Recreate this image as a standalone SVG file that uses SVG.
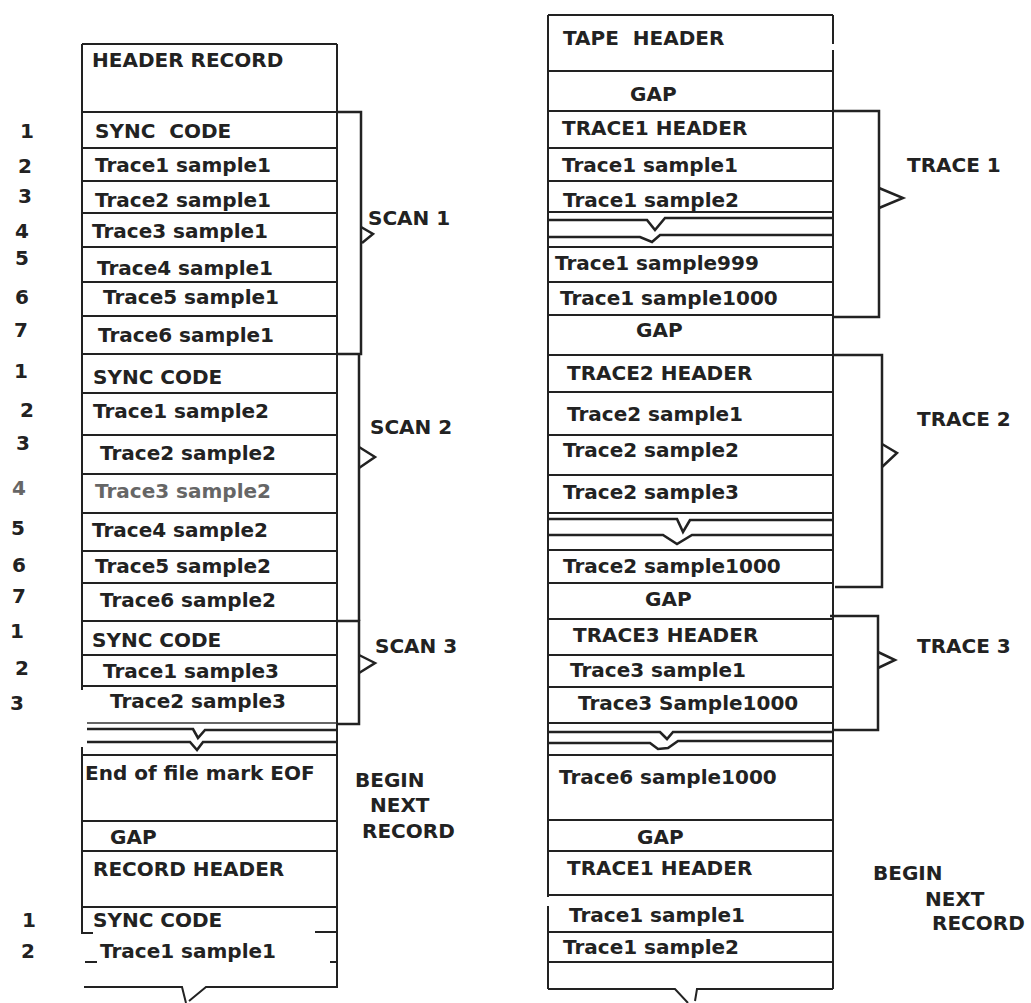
<svg xmlns="http://www.w3.org/2000/svg" width="1031" height="1003" viewBox="0 0 1031 1003">
<style>
text{font-family:"DejaVu Sans","Liberation Sans",sans-serif;font-weight:bold;font-size:20px;fill:#222;white-space:pre}
.num{text-anchor:middle}
.gray{fill:#666}
.ln{fill:none;stroke:#222;stroke-width:2}
.thin{fill:none;stroke:#333;stroke-width:1.5}
.nt{fill:none;stroke:#222;stroke-width:2.6}
.br{fill:none;stroke:#222;stroke-width:2.5}
</style>
<rect width="1031" height="1003" fill="#fff"/>

<!-- LEFT COLUMN -->
<g id="left-record">
  <path class="ln" d="M82 44 V690 M82 747 V933 H93 M337 44 V988"/>
  <path class="ln" d="M82 44 H337 M82 112 H337 M82 148 H337 M82 181 H337 M82 213 H337 M82 247 H337 M82 282 H337 M82 316 H337 M82 354 H337 M82 393 H337 M82 435 H337 M82 474 H337 M82 513 H337 M82 551 H337 M82 583 H337 M82 621 H337 M82 655 H337 M82 686 H337"/>
  <path class="thin" d="M87 723 H337"/>
  <path class="nt" d="M87 729 H193 L198 738 L205 730 H337 M87 742 H190 L197 750 L203 742 H337"/>
  <path class="ln" d="M82 755 H337 M82 821 H337 M82 851 H337 M82 907 H337 M315 932 H337 M85 962 H97 M330 962 H337"/>
  <path class="ln" d="M84 987 H182 L186 1003 M189 1001 L206 987 H337"/>
</g>
<g id="left-header-record"><text x="92" y="67">HEADER RECORD</text></g>
<g id="left-scan1-rows">
  <text x="95" y="138">SYNC  CODE</text>
  <text x="95" y="172">Trace1 sample1</text>
  <text x="95" y="207">Trace2 sample1</text>
  <text x="92" y="238">Trace3 sample1</text>
  <text x="97" y="275">Trace4 sample1</text>
  <text x="103" y="304">Trace5 sample1</text>
  <text x="98" y="342">Trace6 sample1</text>
</g>
<g id="left-scan2-rows">
  <text x="93" y="384">SYNC CODE</text>
  <text x="93" y="418">Trace1 sample2</text>
  <text x="100" y="460">Trace2 sample2</text>
  <text class="gray" x="95" y="498">Trace3 sample2</text>
  <text x="92" y="537">Trace4 sample2</text>
  <text x="95" y="573">Trace5 sample2</text>
  <text x="100" y="607">Trace6 sample2</text>
</g>
<g id="left-scan3-rows">
  <text x="92" y="647">SYNC CODE</text>
  <text x="103" y="678">Trace1 sample3</text>
  <text x="110" y="708">Trace2 sample3</text>
</g>
<g id="left-eof"><text x="85" y="780">End of file mark EOF</text></g>
<g id="left-gap"><text x="110" y="844">GAP</text></g>
<g id="left-record-header"><text x="93" y="876">RECORD HEADER</text></g>
<g id="left-next-rows">
  <text x="93" y="927">SYNC CODE</text>
  <text x="100" y="958">Trace1 sample1</text>
</g>
<g id="left-numbers">
  <text class="num" x="27" y="138">1</text>
  <text class="num" x="25" y="173">2</text>
  <text class="num" x="25" y="203">3</text>
  <text class="num" x="22" y="238">4</text>
  <text class="num" x="22" y="265">5</text>
  <text class="num" x="22" y="304">6</text>
  <text class="num" x="21" y="337">7</text>
  <text class="num" x="21" y="378">1</text>
  <text class="num" x="27" y="417">2</text>
  <text class="num" x="23" y="450">3</text>
  <text class="num gray" x="19" y="495">4</text>
  <text class="num" x="18" y="535">5</text>
  <text class="num" x="19" y="572">6</text>
  <text class="num" x="19" y="603">7</text>
  <text class="num" x="17" y="638">1</text>
  <text class="num" x="22" y="675">2</text>
  <text class="num" x="17" y="710">3</text>
  <text class="num" x="29" y="927">1</text>
  <text class="num" x="28" y="958">2</text>
</g>
<g id="left-labels">
  <text x="368" y="225">SCAN 1</text>
  <text x="370" y="434">SCAN 2</text>
  <text x="375" y="653">SCAN 3</text>
  <text x="355" y="787">BEGIN</text>
  <text x="370" y="812">NEXT</text>
  <text x="362" y="838">RECORD</text>
</g>

<!-- RIGHT COLUMN -->
<g id="right-tape">
  <path class="ln" d="M548 15 V897 M548 906 V989 M833 15 V44 M833 50 V989"/>
  <path class="ln" d="M548 15 H833 M548 71 H833 M548 111 H833 M548 148 H833 M548 181 H833 M548 212 H833 M548 247 H833 M548 282 H833 M548 315 H833 M548 355 H833 M548 392 H833 M548 435 H833 M548 475 H833 M548 513 H833 M548 550 H833 M548 583 H833 M548 619 H833 M548 655 H833 M548 687 H833 M548 723 H833 M548 755 H833 M548 820 H833 M548 851 H833 M548 895 H833 M548 932 H833 M548 962 H833"/>
  <path class="nt" d="M548 220 H647 L655 230 L665 218 H833 M548 237 H640 L652 242 L660 235 H833"/>
  <path class="nt" d="M548 519 H677 L683 532 L690 520 H833 M548 535 H663 L677 544 L692 535 H833"/>
  <path class="nt" d="M548 732 H660 L667 739 L673 732 H833 M548 743 H650 L658 749 L668 748 L678 741 H833"/>
  <path class="ln" d="M548 989 H675 L688 1003 M695 1001 L697 989 H833"/>
</g>
<g id="right-tape-header"><text x="563" y="45">TAPE  HEADER</text></g>
<g id="right-gap1"><text x="630" y="101">GAP</text></g>
<g id="right-trace1-rows">
  <text x="562" y="135">TRACE1 HEADER</text>
  <text x="562" y="172">Trace1 sample1</text>
  <text x="563" y="207">Trace1 sample2</text>
  <text x="555" y="270">Trace1 sample999</text>
  <text x="560" y="305">Trace1 sample1000</text>
</g>
<g id="right-gap2"><text x="636" y="337">GAP</text></g>
<g id="right-trace2-rows">
  <text x="567" y="380">TRACE2 HEADER</text>
  <text x="567" y="421">Trace2 sample1</text>
  <text x="563" y="457">Trace2 sample2</text>
  <text x="563" y="499">Trace2 sample3</text>
  <text x="563" y="573">Trace2 sample1000</text>
</g>
<g id="right-gap3"><text x="645" y="606">GAP</text></g>
<g id="right-trace3-rows">
  <text x="573" y="642">TRACE3 HEADER</text>
  <text x="570" y="677">Trace3 sample1</text>
  <text x="578" y="710">Trace3 Sample1000</text>
</g>
<g id="right-trace6"><text x="559" y="784">Trace6 sample1000</text></g>
<g id="right-gap4"><text x="637" y="844">GAP</text></g>
<g id="right-next-rows">
  <text x="567" y="875">TRACE1 HEADER</text>
  <text x="569" y="922">Trace1 sample1</text>
  <text x="563" y="954">Trace1 sample2</text>
</g>
<g id="right-labels">
  <text x="907" y="172">TRACE 1</text>
  <text x="917" y="426">TRACE 2</text>
  <text x="917" y="653">TRACE 3</text>
  <text x="873" y="880">BEGIN</text>
  <text x="925" y="906">NEXT</text>
  <text x="932" y="930">RECORD</text>
</g>

<!-- CONNECTORS (brackets) -->
<g id="connectors">
  <path class="br" d="M337 112 H361 V354 H337"/>
  <path class="br" d="M361 227 L373 234 L362 243"/>
  <path class="br" d="M359 354 V621"/>
  <path class="br" d="M359 447 L375 457 L359 468"/>
  <path class="br" d="M337 621 H359 V724 H337"/>
  <path class="br" d="M359 655 L375 663 L359 673"/>
  <path class="br" d="M833 111 H879 V317 H833"/>
  <path class="br" d="M879 188 L903 198 L879 208"/>
  <path class="br" d="M833 355 H882 V587 H835"/>
  <path class="br" d="M882 444 L897 453 L882 467"/>
  <path class="br" d="M830 616 H878 V730 H833"/>
  <path class="br" d="M878 652 L895 660 L878 668"/>
</g>
</svg>
